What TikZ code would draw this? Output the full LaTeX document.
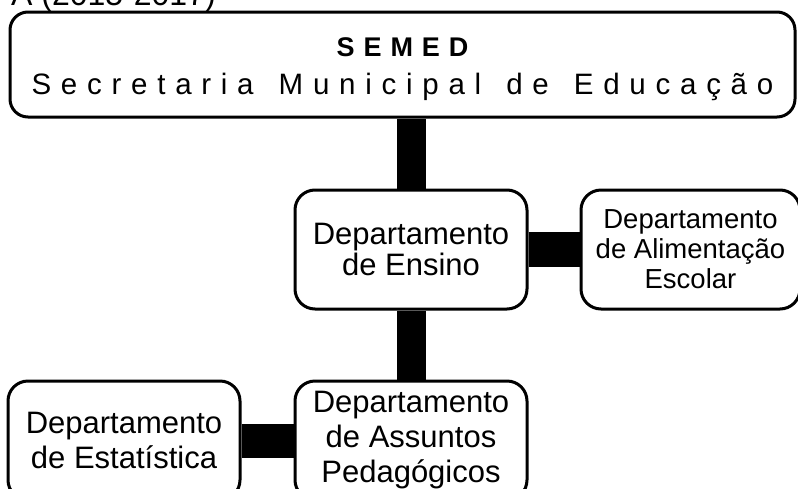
\documentclass[tikz,border=0pt]{standalone}
\usepackage{fontspec}
\setmainfont{Liberation Sans}
\newfontfamily\widefont[LetterSpace=33, WordSpace=1.4]{Liberation Sans}
\usetikzlibrary{positioning,backgrounds}
\tikzset{
	dept/.style = {draw=black, line width=3pt, fill=white, rounded corners=20pt,
	 minimum width=232pt, minimum height=119pt, align=center, inner sep=2pt,
	 font=\fontsize{31}{31}\selectfont}}
\tikzset{
	link/.style = {draw=black, line width=29pt}}

\begin{document}
\begin{tikzpicture}[x=1pt, y=-1pt]
\useasboundingbox (0,0) rectangle (798,488);

% NODES
% period, cut at the top
\node (period) [anchor=base west, inner sep=0pt, font=\fontsize{32}{32}\selectfont] at (11,5) {A (2015-2017)};
% secretaria
\node (semed) [dept, rounded corners=18pt, minimum width=785pt, minimum height=105pt,
 font=\fontsize{29.5}{38}\selectfont] at (402.5,64.5)
 {\rule{0pt}{27.5pt}{\widefont\bfseries\fontsize{27}{38}\selectfont SEMED}\\{\widefont Secretaria Municipal de Educação}};
% departamentos
\node (ensino) [dept, below=70pt of semed, xshift=8.5pt] {Departamento\\de Ensino};
\node (alim) [dept, right=51pt of ensino, minimum width=219pt,
 font=\fontsize{27.5}{30}\selectfont] {Departamento\\de Alimentação\\Escolar};
\node (pedag) [dept, below=69pt of ensino, font=\fontsize{31}{35}\selectfont] {Departamento\\de Assuntos\\Pedagógicos};
\node (estat) [dept, left=52pt of pedag, font=\fontsize{31}{35}\selectfont] {Departamento\\de Estatística};

%CONNECTIONS
\begin{scope}[on background layer]
\draw [link] (ensino.north) -- (ensino.north |- semed.south);
\draw [link] (ensino.south) -- (pedag.north);
\draw [link, line width=35pt] (ensino.east) -- (alim.west);
\draw [link, line width=34pt] (estat.east) -- (pedag.west);
\end{scope}

\end{tikzpicture}
\end{document}
